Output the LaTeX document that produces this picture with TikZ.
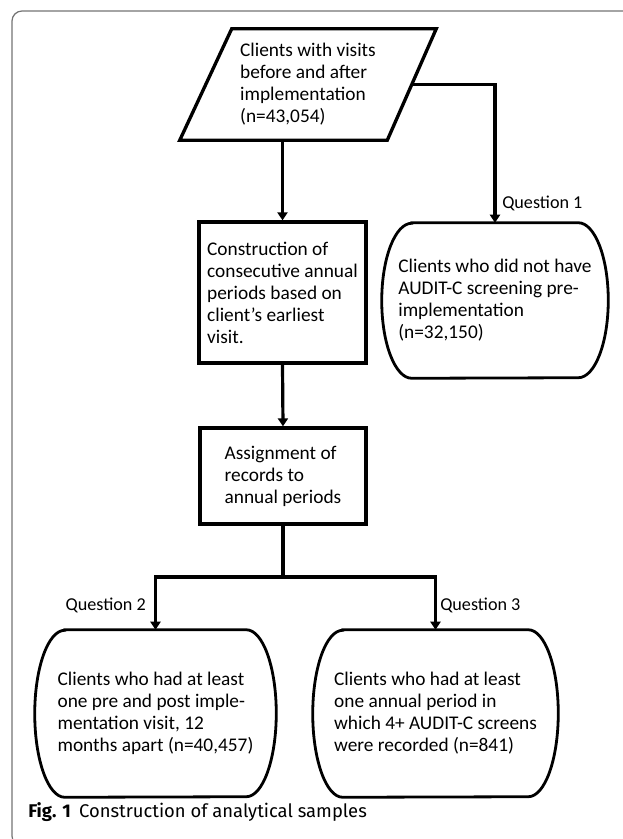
\documentclass[tikz,border=0pt]{standalone}
\usepackage{fontspec}
\setmainfont{Carlito}
\newfontfamily\capfont{Fira Sans}
\usetikzlibrary{arrows.meta,calc}
\begin{document}
\begin{tikzpicture}[x=0.75pt,y=-0.75pt,
  boxtxt/.style={font=\fontsize{14.5}{16.5}\selectfont, align=left, inner sep=0pt},
  rectbox/.style={boxtxt, draw, line width=2.5pt},
  shapeline/.style={line width=2.5pt},
  ovalline/.style={line width=2.1pt},
  conn/.style={line width=2.4pt, -{Triangle[width=7.5pt,length=6pt]}},
  plain/.style={line width=2.4pt},
  qlabel/.style={font=\fontsize{13.6}{16}\selectfont, inner sep=0pt},
  frameline/.style={draw=black!55, line width=0.9pt}]
\useasboundingbox (0,0) rectangle (622,839);
\draw[frameline, rounded corners=7.5pt] (40,846) -- (12,846) -- (12,11) -- (660,11);

% parallelogram
\node[boxtxt, minimum width=192pt, minimum height=83.25pt] (p) at (308,84.5)
  {Clients with visits\\before and after\\implementation\\(n=43,054)};
\draw[shapeline] (p.south west) -- ($(p.north west)+(52,0)$) -- (p.north east)
  -- ($(p.south east)+(-49,0)$) -- cycle;

% rectangles
\node[rectbox, minimum width=125.25pt, minimum height=105.75pt] (c) at (282.5,292.5)
  {Construction of\\consecutive annual\\periods based on\\client’s earliest\\visit.};
\node[rectbox, minimum width=124.5pt, minimum height=72pt] (a) at (283,476)
  {Assignment of\\records to\\annual periods};

% ovals
\node[boxtxt, minimum width=169.5pt, minimum height=116.25pt] (o1) at (495,300.5)
  {Clients who did not have\\AUDIT-C screening pre-\\implementation\\(n=32,150)};
\draw[ovalline] ($(o1.north west)+(30,0)$) -- ($(o1.north east)+(-30,0)$)
  arc[start angle=90, end angle=-90, x radius=22.5pt, y radius=58.125pt]
  -- ($(o1.south west)+(30,0)$)
  arc[start angle=270, end angle=90, x radius=22.5pt, y radius=58.125pt] -- cycle;

\node[boxtxt, minimum width=180.75pt, minimum height=125.25pt] (o2) at (155.5,713.5)
  {Clients who had at least\\one pre and post imple-\\mentation visit, 12\\months apart (n=40,457)};
\draw[ovalline] ($(o2.north west)+(30,0)$) -- ($(o2.north east)+(-30,0)$)
  arc[start angle=90, end angle=-90, x radius=22.5pt, y radius=62.625pt]
  -- ($(o2.south west)+(30,0)$)
  arc[start angle=270, end angle=90, x radius=22.5pt, y radius=62.625pt] -- cycle;

\node[boxtxt, minimum width=183.75pt, minimum height=125.25pt] (o3) at (435.5,713.5)
  {Clients who had at least\\one annual period in\\which 4+ AUDIT-C screens\\were recorded (n=841)};
\draw[ovalline] ($(o3.north west)+(30,0)$) -- ($(o3.north east)+(-30,0)$)
  arc[start angle=90, end angle=-90, x radius=22.5pt, y radius=62.625pt]
  -- ($(o3.south west)+(30,0)$)
  arc[start angle=270, end angle=90, x radius=22.5pt, y radius=62.625pt] -- cycle;

% connectors
\draw[conn] (p.south -| c.north) -- (c.north);
\draw[conn] ($(p.east)+(-23,0)$) -| (o1.north);
\draw[conn] (c.south) -- (a.north);
\coordinate (j) at (283,577);
\draw[plain] (a.south) -- (j);
\draw[conn] (j) -| (o2.north);
\draw[conn] (j) -| (o3.north);

% labels
\node[qlabel, anchor=base west] (q1) at (502,208) {Question 1};
\node[qlabel, anchor=base east] (q2) at (146,610) {Question 2};
\node[qlabel, anchor=base west] (q3) at (440,610) {Question 3};

% caption
\node[anchor=base west, inner sep=0pt, font=\capfont\fontsize{13.8}{16}\selectfont] (cap) at (28,817)
  {\textbf{Fig. 1}\hspace{0.45em}Construction of analytical samples};
\end{tikzpicture}
\end{document}
